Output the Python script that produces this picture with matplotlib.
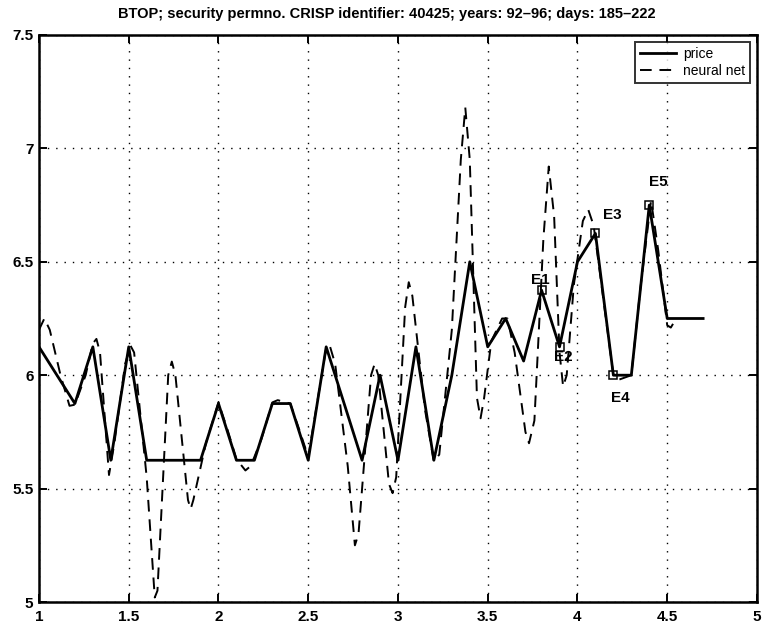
import matplotlib
matplotlib.use("Agg")
import matplotlib.pyplot as plt

plt.rcParams['font.family'] = ['Liberation Sans', 'DejaVu Sans']

# price series (days 185-222)
price_x = [1.0, 1.1, 1.2, 1.3, 1.4, 1.5, 1.6, 1.7, 1.8, 1.9,
           2.0, 2.1, 2.2, 2.3, 2.4, 2.5, 2.6, 2.7, 2.8, 2.9,
           3.0, 3.1, 3.2, 3.3, 3.4, 3.5, 3.6, 3.7, 3.8, 3.9,
           4.0, 4.1, 4.2, 4.3, 4.4, 4.5, 4.6, 4.7]
price_y = [6.125, 6.0, 5.875, 6.125, 5.625, 6.125, 5.625, 5.625, 5.625, 5.625,
           5.875, 5.625, 5.625, 5.875, 5.875, 5.625, 6.125, 5.875, 5.625, 6.0,
           5.625, 6.125, 5.625, 6.0, 6.5, 6.125, 6.25, 6.0625, 6.375, 6.125,
           6.5, 6.625, 6.0, 6.0, 6.75, 6.25, 6.25, 6.25]

# neural net output
nn_x = [1.00, 1.03, 1.06, 1.12, 1.17, 1.20, 1.26, 1.30, 1.32, 1.34,
        1.39, 1.42, 1.48, 1.51, 1.53, 1.60, 1.645, 1.66, 1.72, 1.74,
        1.76, 1.83, 1.845, 1.86, 1.93, 2.00, 2.05, 2.10, 2.15, 2.18,
        2.24, 2.30, 2.33, 2.40, 2.45, 2.50, 2.55, 2.60, 2.62, 2.65,
        2.72, 2.76, 2.78, 2.85, 2.87, 2.89, 2.95, 2.97, 2.99, 3.04,
        3.06, 3.08, 3.15, 3.20, 3.23, 3.30, 3.35, 3.375, 3.40, 3.44,
        3.46, 3.48, 3.52, 3.58, 3.61, 3.65, 3.71, 3.73, 3.76, 3.81,
        3.84, 3.87, 3.90, 3.92, 3.94, 3.98, 4.03, 4.06, 4.09, 4.15,
        4.20, 4.23, 4.30, 4.35, 4.41, 4.45, 4.50, 4.52, 4.55]
nn_y = [6.20, 6.25, 6.20, 6.00, 5.865, 5.87, 6.00, 6.14, 6.16, 6.10,
        5.56, 5.70, 6.05, 6.13, 6.10, 5.55, 5.02, 5.05, 6.00, 6.06,
        6.00, 5.45, 5.41, 5.45, 5.70, 5.88, 5.76, 5.63, 5.58, 5.60,
        5.72, 5.88, 5.89, 5.875, 5.76, 5.64, 5.88, 6.12, 6.13, 6.05,
        5.60, 5.25, 5.30, 6.00, 6.05, 6.00, 5.52, 5.48, 5.55, 6.30,
        6.41, 6.35, 5.85, 5.62, 5.65, 6.20, 6.95, 7.18, 6.95, 5.90,
        5.81, 5.90, 6.15, 6.25, 6.25, 6.10, 5.75, 5.70, 5.80, 6.60,
        6.92, 6.70, 6.10, 5.95, 6.00, 6.40, 6.68, 6.73, 6.66, 6.30,
        6.00, 5.98, 6.00, 6.38, 6.77, 6.55, 6.22, 6.21, 6.25]

# event markers
ev_labels = ['E1', 'E2', 'E3', 'E4', 'E5']
ev_x = [3.8, 3.9, 4.1, 4.2, 4.4]
ev_y = [6.375, 6.125, 6.625, 6.0, 6.75]
ev_text_x = [3.74, 3.87, 4.14, 4.185, 4.40]
ev_text_y = [6.42, 6.08, 6.705, 5.90, 6.85]

title = "BTOP; security permno. CRISP identifier: 40425; years: 92\u201396; days: 185\u2013222"
x_ticks = [1, 1.5, 2, 2.5, 3, 3.5, 4, 4.5, 5]
x_tick_labels = ['1', '1.5', '2', '2.5', '3', '3.5', '4', '4.5', '5']
y_ticks = [5, 5.5, 6, 6.5, 7, 7.5]
y_tick_labels = ['5', '5.5', '6', '6.5', '7', '7.5']

fig = plt.figure(figsize=(7.63, 6.29), dpi=100)
ax = fig.add_axes([0.0511, 0.0429, 0.941, 0.9015])

ax.plot(price_x, price_y, '-', color='black', lw=2.0, label='price')
ax.plot(nn_x, nn_y, '--', color='black', lw=1.4, dashes=(6, 4), label='neural net')
ax.plot(ev_x, ev_y, 's', color='black', markerfacecolor='none', markersize=6, mew=1.1)
for lab, tx, ty in zip(ev_labels, ev_text_x, ev_text_y):
    ax.text(tx, ty, lab, fontsize=11, fontweight='bold', ha='left', va='center')

ax.set_xlim(1, 5)
ax.set_ylim(5, 7.5)
ax.set_xticks(x_ticks)
ax.set_xticklabels(x_tick_labels, fontsize=11, fontweight='bold')
ax.set_yticks(y_ticks)
ax.set_yticklabels(y_tick_labels, fontsize=11, fontweight='bold')
ax.tick_params(direction='in', top=True, right=True, length=6, width=1.4, pad=6)
ax.tick_params(axis='y', pad=4)
ax.grid(True, color='black', linestyle=(0, (1, 5)), linewidth=1.0)
for s in ax.spines.values():
    s.set_linewidth(1.8)
ax.set_title(title, fontsize=10.5, fontweight='bold', pad=12, x=0.484)

leg = ax.legend(loc='upper right', fontsize=10, frameon=True, fancybox=False,
                edgecolor='black', borderpad=0.35, labelspacing=0.25,
                handlelength=2.6, handletextpad=0.5, borderaxespad=0.5)
leg.get_frame().set_linewidth(1.4)

fig.savefig('out.png', dpi=100)
